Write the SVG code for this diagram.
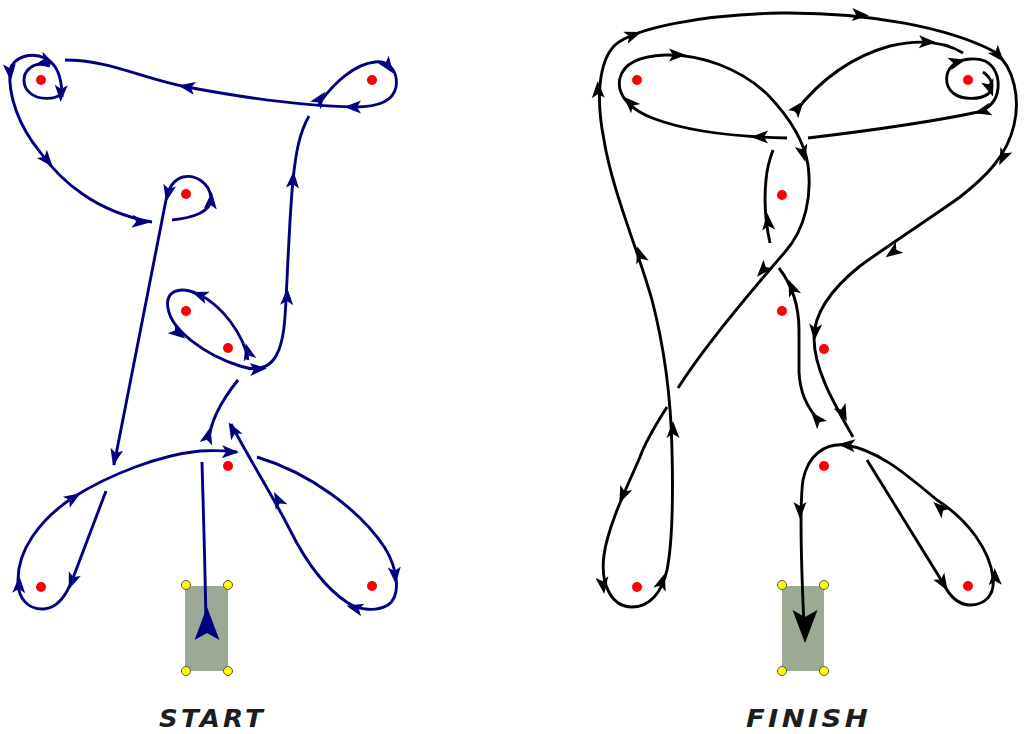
<svg xmlns="http://www.w3.org/2000/svg" xmlns:xlink="http://www.w3.org/1999/xlink" width="1024" height="734" viewBox="0 0 1024 734">
<style>
.navy{stroke:#000080;fill:none;stroke-width:2.9}
.blk{stroke:#000;fill:none;stroke-width:2.9}
.pin{fill:#ff0000}
.base{fill:#9ca994}
.corner{fill:#ffff00;stroke:#5a5a40;stroke-width:1}
.label{font-family:"DejaVu Sans","Liberation Sans",sans-serif;font-weight:bold;font-style:italic;font-size:25px;letter-spacing:3px;fill:#1e1e1e}
</style>
<defs>
<path id="a" d="M9,0 L-8,-6.5 L-4,0 L-8,6.5 Z"/>
<path id="big" d="M0,0 L-33,-12.5 L-26,0 L-33,12.5 Z"/>
</defs>
<rect width="1024" height="734" fill="#fff"/>

<g id="start-base">
<rect class="base" x="185" y="586" width="43" height="85"/>
<circle class="corner" cx="186" cy="585" r="4.5"/><circle class="corner" cx="228" cy="585" r="4.5"/>
<circle class="corner" cx="186" cy="671" r="4.5"/><circle class="corner" cx="228" cy="671" r="4.5"/>
</g>
<g id="finish-base">
<rect class="base" x="782" y="586" width="42" height="85"/>
<circle class="corner" cx="782" cy="585" r="4.5"/><circle class="corner" cx="824" cy="585" r="4.5"/>
<circle class="corner" cx="782" cy="671" r="4.5"/><circle class="corner" cx="824" cy="671" r="4.5"/>
</g>

<g id="left-pins">
<circle class="pin" cx="41" cy="80" r="5"/><circle class="pin" cx="372" cy="80" r="5"/>
<circle class="pin" cx="186" cy="194" r="5"/><circle class="pin" cx="186" cy="311" r="5"/>
<circle class="pin" cx="228" cy="348" r="5"/><circle class="pin" cx="228" cy="466" r="5"/>
<circle class="pin" cx="41" cy="587" r="5"/><circle class="pin" cx="372" cy="586" r="5"/>
</g>
<g id="right-pins">
<circle class="pin" cx="637" cy="80" r="5"/><circle class="pin" cx="968" cy="80" r="5"/>
<circle class="pin" cx="782" cy="195" r="5"/><circle class="pin" cx="782" cy="311" r="5"/>
<circle class="pin" cx="824" cy="349" r="5"/><circle class="pin" cx="824" cy="466" r="5"/>
<circle class="pin" cx="637" cy="587" r="5"/><circle class="pin" cx="968" cy="586" r="5"/>
</g>

<g id="left-rope" class="navy">
<path d="M206,625 C205,560 203,500 202,462"/>
<path d="M209,441 C210,420 222,400 238,380"/>
<path d="M248,360 C244,335 222,305 198,294 C178,285 165,292 168,308 C171,330 205,355 240,366 C255,371 268,370 276,356 C284,342 285,320 286,300 C288,260 290,210 293,180 C296,150 300,132 309,116"/>
<path d="M321,101 C335,82 355,64 375,62 C392,60 398,75 396,87 C393,102 375,107 355,107 C300,106 240,97 187,87 C140,78 110,60 65,60"/>
<path d="M62,97 C62,80 58,64 45,58 C32,52 14,56 10,70 C8,95 18,125 40,152 C60,180 95,212 152,222"/>
<path d="M61,94 C55,100 38,100 30,93 C22,86 22,74 30,68 C36,63 44,64 50,66"/>
<path d="M172,220 C192,218 212,212 211,198 C210,183 195,174 183,177 C172,180 168,190 166,200 L114,465"/>
<path d="M106,491 L73,578 C66,597 57,608 44,609 C28,610 18,598 18,582 C17,550 40,520 72,498 C110,474 160,455 200,451 C215,450 228,451 237,452"/>
<path d="M257,457 C310,473 360,510 385,548 C397,568 402,595 388,605 C376,612 360,610 348,603 C325,588 305,560 290,530 C275,500 250,460 231,424"/>
</g>
<g id="left-arrows" fill="#000080">
<use href="#big" transform="translate(207,607) rotate(-90)"/>
<use href="#a" transform="translate(208,436) rotate(-75)"/>
<use href="#a" transform="translate(248,352) rotate(-105)"/>
<use href="#a" transform="translate(200,295) rotate(-160)"/>
<use href="#a" transform="translate(178,333) rotate(38)"/>
<use href="#a" transform="translate(258,369) rotate(-3)"/>
<use href="#a" transform="translate(287,297) rotate(-88)"/>
<use href="#a" transform="translate(293,180) rotate(-86)"/>
<use href="#a" transform="translate(320,99) rotate(-55)"/>
<use href="#a" transform="translate(388,66) rotate(55)"/>
<use href="#a" transform="translate(353,107) rotate(180)"/>
<use href="#a" transform="translate(187,87) rotate(-170)"/>
<use href="#a" transform="translate(47,61) rotate(25)"/>
<use href="#a" transform="translate(61,93) rotate(92)"/>
<use href="#a" transform="translate(10,72) rotate(85)"/>
<use href="#a" transform="translate(47,160) rotate(50)"/>
<use href="#a" transform="translate(140,222) rotate(5)"/>
<use href="#a" transform="translate(211,201) rotate(-85)"/>
<use href="#a" transform="translate(168,193) rotate(102)"/>
<use href="#a" transform="translate(115,457) rotate(103)"/>
<use href="#a" transform="translate(72,581) rotate(111)"/>
<use href="#a" transform="translate(19,585) rotate(-88)"/>
<use href="#a" transform="translate(73,498) rotate(-32)"/>
<use href="#a" transform="translate(230,452) rotate(2)"/>
<use href="#a" transform="translate(395,575) rotate(85)"/>
<use href="#a" transform="translate(355,608) rotate(195)"/>
<use href="#a" transform="translate(278,500) rotate(-116)"/>
<use href="#a" transform="translate(233,430) rotate(-119)"/>
</g>

<g id="right-rope" class="blk">
<path d="M820,422 C806,406 800,392 799,372 L799,330 C799,305 792,285 779,268"/>
<path d="M770,243 C766,225 764,200 766,180 C767,168 770,158 773,150"/>
<path d="M795,112 C820,80 850,57 890,46 C920,39 945,42 963,53"/>
<path d="M983,72 C992,78 995,88 988,94 C980,100 962,100 953,93 C944,85 945,72 953,65 C960,59 975,57 985,61 C995,66 999,77 998,88 C997,100 990,108 978,112 C950,118 900,127 808,138"/>
<path d="M787,138 C740,137 690,132 655,119 C630,110 616,95 620,78 C624,62 642,56 665,55 C700,54 740,68 768,95 C790,118 804,140 808,165 C812,195 806,228 785,252 C765,275 705,345 678,388"/>
<path d="M667,407 C657,423 646,440 640,457 C628,485 608,525 604,555 C600,585 612,607 632,607 C650,607 662,592 667,570 C673,540 673,490 672,450 C671,400 665,350 652,300 C638,250 612,190 604,140 C596,100 598,62 615,45 C635,28 700,15 780,13 C870,12 950,28 995,52 C1015,68 1020,100 1014,125 C1007,155 988,175 960,197 C935,215 893,242 860,266 C830,290 814,315 814,338 C814,370 835,405 853,437"/>
<path d="M867,460 L943,583 C950,597 958,605 970,605 C985,605 995,595 993,578 C990,550 968,520 937,500 C910,478 880,450 845,445 C825,443 808,455 803,480 C800,500 801,560 804,625"/>
</g>
<g id="right-arrows" fill="#000">
<use href="#big" transform="translate(805,643) rotate(90)"/>
<use href="#a" transform="translate(817,419) rotate(-130)"/>
<use href="#a" transform="translate(792,288) rotate(-112)"/>
<use href="#a" transform="translate(768,222) rotate(-95)"/>
<use href="#a" transform="translate(798,108) rotate(-52)"/>
<use href="#a" transform="translate(927,42) rotate(2)"/>
<use href="#a" transform="translate(990,88) rotate(70)"/>
<use href="#a" transform="translate(957,62) rotate(-15)"/>
<use href="#a" transform="translate(983,111) rotate(165)"/>
<use href="#a" transform="translate(760,137) rotate(180)"/>
<use href="#a" transform="translate(630,103) rotate(-135)"/>
<use href="#a" transform="translate(677,55) rotate(0)"/>
<use href="#a" transform="translate(803,153) rotate(75)"/>
<use href="#a" transform="translate(763,270) rotate(132)"/>
<use href="#a" transform="translate(623,495) rotate(114)"/>
<use href="#a" transform="translate(603,585) rotate(82)"/>
<use href="#a" transform="translate(662,582) rotate(-72)"/>
<use href="#a" transform="translate(673,430) rotate(-90)"/>
<use href="#a" transform="translate(640,255) rotate(-108)"/>
<use href="#a" transform="translate(598,90) rotate(-92)"/>
<use href="#a" transform="translate(633,35) rotate(-20)"/>
<use href="#a" transform="translate(860,15) rotate(3)"/>
<use href="#a" transform="translate(998,55) rotate(50)"/>
<use href="#a" transform="translate(1003,157) rotate(115)"/>
<use href="#a" transform="translate(893,252) rotate(145)"/>
<use href="#a" transform="translate(815,332) rotate(95)"/>
<use href="#a" transform="translate(843,413) rotate(65)"/>
<use href="#a" transform="translate(943,583) rotate(58)"/>
<use href="#a" transform="translate(995,577) rotate(-92)"/>
<use href="#a" transform="translate(940,508) rotate(-138)"/>
<use href="#a" transform="translate(847,445) rotate(185)"/>
<use href="#a" transform="translate(800,510) rotate(90)"/>
</g>

<g id="labels">
<text class="label" x="159" y="727" textLength="107" lengthAdjust="spacingAndGlyphs">START</text>
<text class="label" x="746" y="727" textLength="125" lengthAdjust="spacingAndGlyphs">FINISH</text>
</g>
</svg>
